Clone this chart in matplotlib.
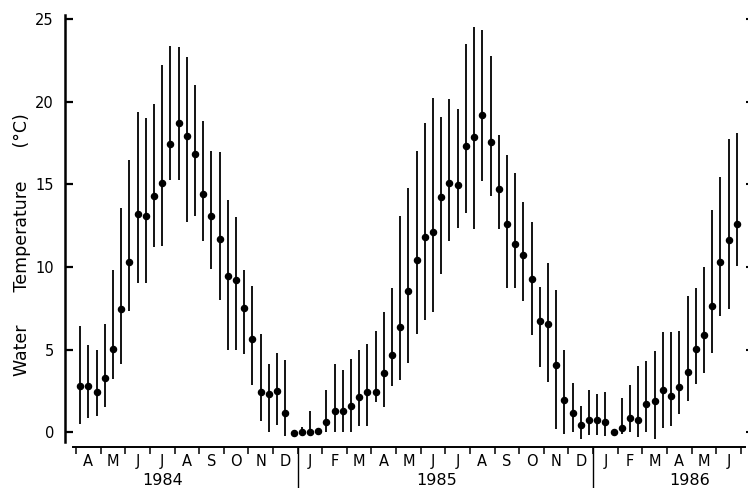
"""
plot.py
-------
Ten-day mean water temperature with ranges, April 1984 - June 1986.
"""

import numpy as np
import matplotlib
import matplotlib.pyplot as plt
import matplotlib.transforms as mtransforms

matplotlib.use("Agg")

# -------------------------------------------------------------------------
# Data: one value per ten-day period (3 per month), Apr 1984 -> Jun 1986
# -------------------------------------------------------------------------
month_labels = ["A", "M", "J", "J", "A", "S", "O", "N", "D",
                "J", "F", "M", "A", "M", "J", "J", "A", "S", "O", "N", "D",
                "J", "F", "M", "A", "M", "J"]
year_labels = ["1984", "1985", "1986"]
year_starts = [9, 21]          # month index of 1 Jan 1985 / 1 Jan 1986

temp_mean = [
    2.8, 2.8, 2.45, 3.3, 5.05, 7.45, 10.3, 13.2, 13.1,
    14.3, 15.1, 17.45, 18.75, 17.95, 16.85, 14.4, 13.1, 11.7,
    9.45, 9.2, 7.5, 5.65, 2.45, 2.3, 2.5, 1.15, -0.05,
    0.0, 0.0, 0.05, 0.6, 1.3, 1.3, 1.6, 2.15, 2.45,
    2.45, 3.55, 4.65, 6.35, 8.55, 10.4, 11.8, 12.15, 14.25,
    15.1, 14.95, 17.35, 17.85, 19.2, 17.6, 14.7, 12.6, 11.4,
    10.75, 9.25, 6.75, 6.55, 4.05, 1.95, 1.15, 0.4, 0.75,
    0.75, 0.6, 0.0, 0.25, 0.85, 0.75, 1.7, 1.85, 2.55,
    2.2, 2.75, 3.65, 5.05, 5.85, 7.65, 10.3, 11.65, 12.6,
]
temp_max = [
    6.4, 5.3, 4.95, 6.55, 9.8, 13.6, 16.5, 19.4, 19.05,
    19.9, 22.25, 23.4, 23.35, 22.75, 21.0, 18.85, 17.05, 16.95,
    14.05, 13.0, 9.8, 8.85, 5.95, 4.15, 4.8, 4.35, np.nan,
    0.3, 1.3, np.nan, 2.55, 4.15, 3.75, 4.45, 4.95, 5.35,
    6.15, 7.25, 8.75, 13.1, 14.8, 17.0, 18.7, 20.25, 19.1,
    20.2, 19.6, 23.5, 24.55, 24.35, 22.8, 18.0, 16.8, 15.7,
    13.95, 12.75, 8.8, 10.25, 8.6, 4.95, 2.95, 1.6, 2.55,
    2.3, 2.4, np.nan, 2.05, 2.85, 4.0, 4.3, 4.9, 6.05,
    6.05, 6.15, 8.25, 8.7, 10.0, 13.45, 15.45, 17.75, 18.1,
]
temp_min = [
    0.5, 0.85, 1.0, 1.5, 3.2, 4.15, 7.35, 9.0, 9.0,
    11.2, 11.25, 15.3, 15.3, 12.7, 13.1, 11.6, 9.9, 8.0,
    5.0, 5.0, 4.7, 2.85, 0.65, 0.0, 0.45, -0.25, np.nan,
    -0.25, -0.25, np.nan, 0.0, 0.0, 0.0, 0.0, 0.35, 0.35,
    1.8, 1.5, 2.8, 3.15, 4.2, 5.95, 6.8, 7.25, 9.55,
    11.6, 12.35, 13.3, 12.3, 15.2, 14.3, 12.3, 8.75, 8.75,
    7.95, 5.9, 3.95, 3.05, 0.2, -0.1, 0.0, -0.4, -0.2,
    -0.2, -0.25, np.nan, -0.15, 0.0, -0.3, 0.0, -0.4, 0.25,
    0.35, 1.1, 1.9, 2.9, 3.55, 4.8, 7.05, 7.45, 10.05,
]
y_ticks = [0, 5, 10, 15, 20, 25]

# x position in months since 1 Apr 1984, centred in each ten-day period
n_pts = len(temp_mean)
x_pos = np.arange(n_pts) // 3 + (np.arange(n_pts) % 3 + 0.5) / 3.0

# -------------------------------------------------------------------------
# Figure (749 x 488 px)
# -------------------------------------------------------------------------
W, H = 749, 488
fig = plt.figure(figsize=(W / 100, H / 100), dpi=100)
ax = fig.add_axes([65 / W, (H - 446.7) / H, 683 / W, 431.7 / H])

ax.vlines(x_pos, temp_min, temp_max, color="black", lw=1.3)
ax.plot(x_pos, temp_mean, "o", color="black", ms=4.4, mec="black")

ax.set_xlim(-0.447, 27.29)
ax.set_ylim(-0.89, 25.27)

# spines: only left and bottom, trimmed like the original drawing
for side in ("top", "right"):
    ax.spines[side].set_visible(False)
ax.spines["left"].set_linewidth(1.8)
ax.spines["left"].set_bounds(-0.59, 25.27)
ax.spines["bottom"].set_linewidth(1.4)
ax.spines["bottom"].set_bounds(-0.134, 27.17)

# y axis
ax.set_yticks(y_ticks)
ax.tick_params(axis="y", direction="in", length=6, width=1.6, pad=8,
               labelsize=10.5)

# tiny marks on the right edge
ax_r = ax.twinx()
ax_r.set_ylim(ax.get_ylim())
ax_r.set_yticks(y_ticks)
ax_r.set_yticklabels([])
ax_r.tick_params(axis="y", direction="in", length=1.5, width=1.5)
for side in ax_r.spines:
    ax_r.spines[side].set_visible(False)

# x axis: month boundaries as ticks, month letters centred between them
ax.set_xticks(np.arange(len(month_labels) + 1))
ax.set_xticklabels([])
ax.tick_params(axis="x", which="major", direction="out", length=5, width=1.1)
ax.set_xticks(np.arange(len(month_labels)) + 0.5, minor=True)
ax.set_xticklabels(month_labels, minor=True)
ax.tick_params(axis="x", which="minor", length=0, pad=5, labelsize=10.5)

# year separators and year labels below the months
trans = mtransforms.blended_transform_factory(ax.transData, ax.transAxes)
for xs in year_starts:
    ax.plot([xs, xs], [0, -0.1], color="black", lw=1.0,
            transform=trans, clip_on=False)
for label, xc in zip(year_labels, [3.5, 14.65, 24.9]):
    ax.text(xc, -0.078, label, transform=trans, ha="center", va="center",
            fontsize=11.5)

fig.text(22 / W, 1 - 245 / H, "Water      Temperature      (°C)",
         rotation=90, ha="center", va="center", fontsize=12.5)

fig.savefig("out.png", dpi=100)
plt.close(fig)
